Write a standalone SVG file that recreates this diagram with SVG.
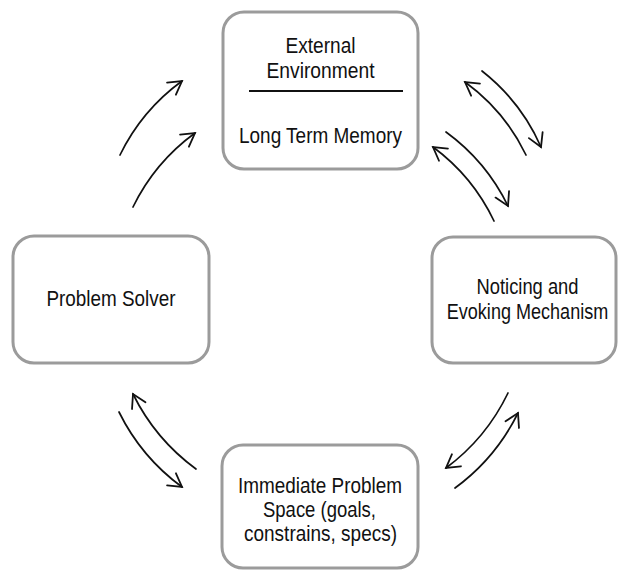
<svg xmlns="http://www.w3.org/2000/svg" width="618" height="570" viewBox="0 0 618 570">
<style>
.box{fill:#fff;stroke:#9b9b9b;stroke-width:3}
.t{font-family:"Liberation Sans",Arial,sans-serif;font-size:21.5px;fill:#111;text-anchor:middle}
.c{fill:none;stroke:#111;stroke-width:1.7;stroke-linecap:round}
</style>
<defs>
<marker id="h" markerUnits="userSpaceOnUse" markerWidth="30" markerHeight="30" viewBox="-20 -15 30 30" refX="0" refY="0" orient="auto" overflow="visible">
<path d="M-13,-7.5 L0,0 L-13,7.5" fill="none" stroke="#111" stroke-width="1.8" stroke-linecap="round" stroke-linejoin="miter"/>
</marker>
</defs>
<rect width="618" height="570" fill="#fff"/>
<g id="ltm">
<rect class="box" x="223" y="12" width="195" height="157" rx="21"/>
<text class="t" x="320.5" y="53" textLength="70" lengthAdjust="spacingAndGlyphs">External</text>
<text class="t" x="320.5" y="78" textLength="108" lengthAdjust="spacingAndGlyphs">Environment</text>
<line x1="249" y1="91" x2="403" y2="91" stroke="#111" stroke-width="2"/>
<text class="t" x="320.5" y="143" textLength="163" lengthAdjust="spacingAndGlyphs">Long Term Memory</text>
</g>
<g id="solver">
<rect class="box" x="13" y="236" width="196" height="127" rx="21"/>
<text class="t" x="111" y="306" textLength="129" lengthAdjust="spacingAndGlyphs">Problem Solver</text>
</g>
<g id="noticing">
<rect class="box" x="432" y="237" width="184" height="126" rx="21"/>
<text class="t" x="527.5" y="294" textLength="102" lengthAdjust="spacingAndGlyphs">Noticing and</text>
<text class="t" transform="translate(527.5,319) scale(0.84,1)" x="0" y="0">Evoking Mechanism</text>
</g>
<g id="space">
<rect class="box" x="222" y="445" width="196" height="123" rx="21"/>
<text class="t" x="320" y="493" textLength="164" lengthAdjust="spacingAndGlyphs">Immediate Problem</text>
<text class="t" x="319.5" y="517" textLength="113" lengthAdjust="spacingAndGlyphs">Space (goals,</text>
<text class="t" x="320.5" y="541" textLength="153" lengthAdjust="spacingAndGlyphs">constrains, specs)</text>
</g>
<g id="connectors">
<path class="c" d="M120,155 Q141.8,110.3 182,81" marker-end="url(#h)"/>
<path class="c" d="M133,207 Q154.8,162.3 195,133" marker-end="url(#h)"/>
<path class="c" d="M526,155 Q504.7,110.8 465,82" marker-end="url(#h)"/>
<path class="c" d="M482,71 Q521,101.6 541,147" marker-end="url(#h)"/>
<path class="c" d="M494,221 Q472.8,176.4 433,147" marker-end="url(#h)"/>
<path class="c" d="M446,132 Q486.2,161.3 508,206" marker-end="url(#h)"/>
<path class="c" d="M508,393 Q486.3,438.1 446,468" marker-end="url(#h)"/>
<path class="c" d="M455,488 Q495.7,458.2 518,413" marker-end="url(#h)"/>
<path class="c" d="M196,469 Q155.3,439.2 133,394" marker-end="url(#h)"/>
<path class="c" d="M119,412 Q141.3,457.2 182,487" marker-end="url(#h)"/>
</g>
</svg>
